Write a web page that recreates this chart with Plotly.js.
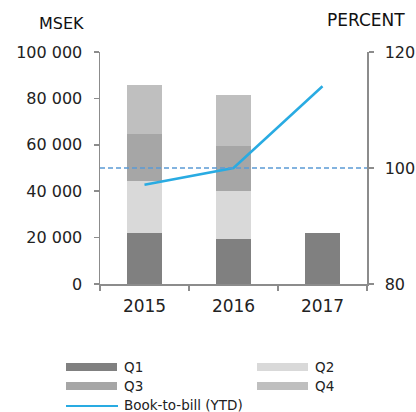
<!DOCTYPE html>
<html>
<head>
<meta charset="utf-8">
<script src="https://cdn.plot.ly/plotly-3.0.1.min.js"></script>
<style>
html,body{margin:0;padding:0;background:#fff;}
#chart{width:416px;height:412px;}
</style>
</head>
<body>
<div id="chart"></div>
<script>
// ---- Data ----
var years = ["2015", "2016", "2017"];
var q1 = [21800, 19600, 21800];
var q2 = [22400, 20600, null];
var q3 = [20500, 19500, null];
var q4 = [21100, 21900, null];
var bookToBill = [97.1, 100.0, 114.1];
var referenceLevel = 100;

var leftTickVals = [0, 20000, 40000, 60000, 80000, 100000];
var leftTickText = ["0", "20 000", "40 000", "60 000", "80 000", "100 000"];
var rightTickVals = [80, 100, 120];
var rightTickText = ["80", "100", "120"];

var seriesNames = ["Q1", "Q2", "Q3", "Q4", "Book-to-bill (YTD)"];
var colors = ["#808080", "#d9d9d9", "#a6a6a6", "#bfbfbf"];
var lineColor = "#29abe2";
var dashColor = "#5b9bd5";

var FONT = "DejaVu Sans, sans-serif";
var axisColor = "#8c8c8c";

function barTrace(vals, i) {
  return {
    type: "bar", x: years, y: vals, name: seriesNames[i],
    marker: {color: colors[i], line: {width: 0}},
    hoverinfo: "skip", showlegend: false
  };
}

var traces = [
  barTrace(q1, 0), barTrace(q2, 1), barTrace(q3, 2), barTrace(q4, 3),
  {
    type: "scatter", mode: "lines", x: years, y: bookToBill, yaxis: "y2",
    name: seriesNames[4], line: {color: lineColor, width: 2.5},
    hoverinfo: "skip", showlegend: false
  }
];

// legend drawn manually (wide swatches)
var shapes = [
  {type: "line", xref: "paper", x0: 0, x1: 1, yref: "y2", y0: referenceLevel, y1: referenceLevel,
   line: {color: dashColor, width: 1.5, dash: "5px,3px"}}
];
var annotations = [
  {text: "MSEK", xref: "paper", yref: "paper", x: -0.146, y: 1.125, xanchor: "center", yanchor: "middle",
   showarrow: false, font: {family: FONT, size: 16, color: "#111"}},
  {text: "PERCENT", xref: "paper", yref: "paper", x: 0.998, y: 1.14, xanchor: "center", yanchor: "middle",
   showarrow: false, font: {family: FONT, size: 17, color: "#111"}}
];

// legend layout in pixel terms, converted to paper coords
var L = 100, R = 367, T = 52, B = 284;
function px(x) { return (x - L) / (R - L); }
function py(y) { return (B - y) / (B - T); }
var legendItems = [
  {i: 0, x: 66, y: 367},
  {i: 1, x: 257, y: 367},
  {i: 2, x: 66, y: 386},
  {i: 3, x: 257, y: 386}
];
legendItems.forEach(function (it) {
  shapes.push({type: "rect", xref: "paper", yref: "paper",
    x0: px(it.x), x1: px(it.x + 51), y0: py(it.y - 4), y1: py(it.y + 4),
    fillcolor: colors[it.i], line: {width: 0}});
  annotations.push({text: seriesNames[it.i], xref: "paper", yref: "paper",
    x: px(it.x + 56), y: py(it.y), xanchor: "left", yanchor: "middle", showarrow: false,
    font: {family: FONT, size: 13.5, color: "#222"}});
});
shapes.push({type: "line", xref: "paper", yref: "paper", x0: px(66), x1: px(118), y0: py(406), y1: py(406),
  line: {color: lineColor, width: 2}});
annotations.push({text: seriesNames[4], xref: "paper", yref: "paper",
  x: px(122), y: py(405), xanchor: "left", yanchor: "middle", showarrow: false,
  font: {family: FONT, size: 13.5, color: "#222"}});

var layout = {
  width: 416, height: 412,
  margin: {l: L, r: 416 - R, t: T, b: 412 - B, pad: 0},
  paper_bgcolor: "#fff", plot_bgcolor: "#fff",
  barmode: "stack", bargap: 0.6,
  showlegend: false,
  font: {family: FONT, color: "#222"},
  xaxis: {
    type: "category", showgrid: false, zeroline: false,
    showline: true, linecolor: axisColor, linewidth: 1.5,
    ticks: "outside", tickson: "boundaries", ticklen: 5, tickcolor: axisColor, tickwidth: 1.5,
    tickfont: {family: FONT, size: 17, color: "#222"}, ticklabelstandoff: 6
  },
  yaxis: {
    range: [0, 100000], showgrid: false, zeroline: false,
    showline: true, linecolor: axisColor, linewidth: 1.5,
    ticks: "outside", ticklen: 5, tickcolor: axisColor, tickwidth: 1.5,
    tickvals: leftTickVals, ticktext: leftTickText,
    tickfont: {family: FONT, size: 16, color: "#222"}, ticklabelstandoff: 8
  },
  yaxis2: {
    range: [80, 120], overlaying: "y", side: "right", showgrid: false, zeroline: false,
    showline: true, linecolor: axisColor, linewidth: 1.5,
    ticks: "outside", ticklen: 5, tickcolor: axisColor, tickwidth: 1.5,
    tickvals: rightTickVals, ticktext: rightTickText,
    tickfont: {family: FONT, size: 16, color: "#222"}, ticklabelstandoff: 8
  },
  shapes: shapes,
  annotations: annotations
};

Plotly.newPlot("chart", traces, layout, {displayModeBar: false, staticPlot: true});
</script>
</body>
</html>
